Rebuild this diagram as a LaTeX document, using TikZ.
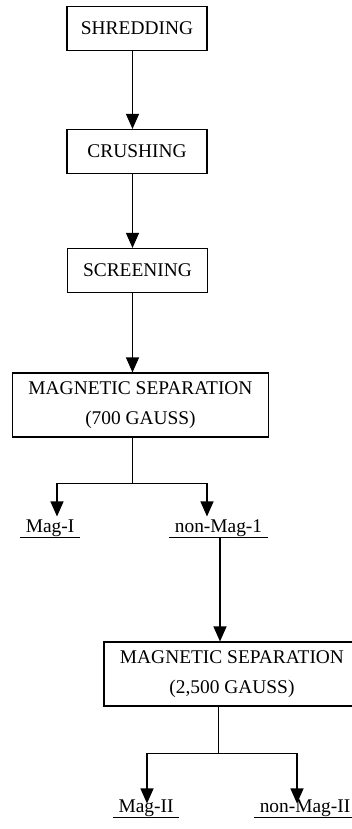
\documentclass[tikz,border=0pt]{standalone}
\usepackage{fontspec}
\setmainfont{Liberation Serif}
\usetikzlibrary{arrows.meta}

\begin{document}
\begin{tikzpicture}[x=1pt,y=-1pt,line width=1.1pt,
    font=\fontsize{19.4}{30}\selectfont,
    stage/.style={draw,minimum width=140pt,minimum height=44pt,inner sep=0pt},
    sepbox/.style={draw,align=center,minimum width=256pt,minimum height=64pt,inner sep=0pt},
    product/.style={anchor=base,inner xsep=5pt,inner ysep=1pt,text height=14pt,text depth=4pt},
    flow/.style={-{Triangle[width=13pt,length=15pt]}}]
  \useasboundingbox (0,0) rectangle (351,829);
  \coordinate (spine) at (132.5,0);

  \node[stage] (shred) at (137,28.5) {SHREDDING};
  \node[stage] (crush) at (137,151.5) {CRUSHING};
  \node[stage] (screen) at (137.5,270.5) {SCREENING};
  \node[sepbox] (mag1) at (140.5,405) {MAGNETIC SEPARATION\\(700 GAUSS)};
  \node[product] (magA) at (50,532) {Mag-I};
  \node[product] (nonmagA) at (218.5,532) {non-Mag-1};
  \node[sepbox] (mag2) at (232,674) {MAGNETIC SEPARATION\\(2,500 GAUSS)};
  \node[product] (magB) at (146,812) {Mag-II};
  \node[product] (nonmagB) at (305,812) {non-Mag-II};
  \foreach \n in {magA,nonmagA,magB,nonmagB}
    \draw (\n.south west) -- (\n.south east);

  \draw[flow] (shred.south -| spine) -- (crush.north -| spine);
  \draw[flow] (crush.south -| spine) -- (screen.north -| spine);
  \draw[flow] (screen.south -| spine) -- (mag1.north -| spine);

  \draw (mag1.south -| spine) -- ++(0,46) coordinate (fork1);
  \draw[flow] (fork1) -| ([xshift=7pt]magA.north);
  \draw[flow] (fork1) -| ([xshift=-11.5pt]nonmagA.north);
  \draw[flow] ([xshift=1.5pt]nonmagA.south) -- ([xshift=1.5pt]nonmagA.south |- mag2.north);

  \draw (mag2.south -| nonmagA) -- ++(0,47) coordinate (fork2);
  \draw[flow] (fork2) -| ([xshift=1pt,yshift=-7pt]magB.north);
  \draw[flow] (fork2) -| ([xshift=-8pt,yshift=-7pt]nonmagB.north);
\end{tikzpicture}
\end{document}
